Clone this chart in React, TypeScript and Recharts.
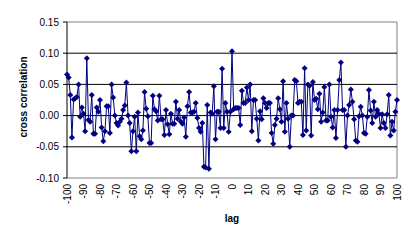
import { LineChart, Line, XAxis, YAxis, ReferenceLine, Label } from 'recharts'

// lag -100 .. -58
const valuesA = [
  0.066, 0.061, 0.033, -0.035, 0.026, 0.028, 0.03, 0.05, -0.002, 0.013, 0.003,
  -0.025, 0.092, -0.007, -0.01, 0.033, -0.029, -0.029, 0.013, 0.006, 0.025,
  -0.019, -0.041, -0.025, 0.015, 0.015, -0.028, 0.05, 0.029, 0.0, -0.012,
  -0.016, -0.01, -0.005, 0.009, 0.016, 0.053, 0.0, -0.012, -0.057, -0.025,
  -0.002, -0.057,
]
// lag -57 .. -33
const valuesB = [
  0.005, -0.033, -0.038, -0.024, 0.038, 0.011, -0.001, -0.044, -0.044, 0.032,
  0.01, 0.007, -0.008, 0.032, -0.006, -0.006, -0.031, 0.009, -0.014, -0.03,
  0.003, -0.013, -0.013, 0.022, -0.005,
]
// lag -32 .. -1
const valuesC = [
  0.009, -0.01, -0.013, -0.003, -0.034, 0.015, 0.038, 0.005, 0.005, 0.006,
  0.02, -0.004, -0.02, -0.026, -0.012, -0.082, -0.083, 0.017, -0.085, 0.005,
  0.003, 0.047, -0.038, 0.006, 0.006, -0.02, 0.075, -0.02, 0.02, 0.006,
  -0.026, 0.006,
]
// lag 0 .. 31
const valuesD = [
  0.103, 0.01, 0.012, 0.012, 0.012, -0.015, 0.04, 0.02, 0.02, 0.045, 0.025,
  0.05, -0.025, 0.025, 0.025, -0.005, -0.04, 0.007, -0.006, 0.028, 0.02, 0.012,
  0.02, 0.02, -0.028, -0.045, -0.015, -0.005, 0.028, 0.01, -0.01, 0.055,
]
// lag 32 .. 64
const valuesE = [
  -0.026, 0.02, -0.005, -0.05, 0.0, 0.0, 0.057, 0.055, 0.02, 0.022, 0.022,
  -0.031, 0.076, -0.024, 0.05, 0.048, -0.032, 0.054, 0.025, 0.027, 0.01, 0.035,
  -0.01, 0.005, 0.046, -0.008, -0.008, 0.05, -0.002, -0.019, 0.009, -0.036,
  0.009,
]
// lag 65 .. 100
const valuesF = [
  0.057, 0.085, 0.009, 0.009, -0.05, 0.0, 0.017, 0.042, 0.022, -0.006, -0.04,
  -0.042, -0.001, 0.014, 0.0, -0.028, -0.029, -0.002, 0.041, 0.008, -0.012,
  0.022, -0.002, 0.009, 0.003, -0.02, 0.002, -0.012, -0.02, 0.002, 0.033,
  -0.032, -0.01, -0.024, 0.006, 0.025,
]

const lagTicks = [-100, -90, -80, -70, -60, -50, -40, -30, -20, -10, 0, 10, 20, 30, 40, 50, 60, 70, 80, 90, 100]
const yTicks = [-0.1, -0.05, 0, 0.05, 0.1, 0.15]
const gridValues = [-0.05, 0, 0.05, 0.1]

const values = [...valuesA, ...valuesB, ...valuesC, ...valuesD, ...valuesE, ...valuesF]
const data = values.map((v, i) => ({ lag: i - 100, value: v }))

const FONT = '"Liberation Sans", Arial, sans-serif'
const NAVY = '#000080'

const Diamond = (props: any) => {
  const { cx, cy } = props
  if (cx == null || cy == null) return null
  return (
    <path
      d={`M${cx},${cy - 3}L${cx + 3},${cy}L${cx},${cy + 3}L${cx - 3},${cy}Z`}
      fill={NAVY}
    />
  )
}

const LagTick = ({ x, payload }: any) => {
  const y = 184
  return (
    <text
      x={x}
      y={y}
      transform={`rotate(-90 ${x} ${y})`}
      textAnchor="end"
      dominantBaseline="central"
      fontSize={10}
      fontFamily={FONT}
      fill="#000"
    >
      {payload.value}
    </text>
  )
}

export default function App() {
  return (
    <div style={{ position: 'fixed', left: 0, top: 0, width: 410, height: 241, background: '#fff' }}>
      <LineChart
        width={410}
        height={241}
        data={data}
        margin={{ top: 22, right: 13, bottom: 0, left: 0 }}
      >
        <XAxis
          dataKey="lag"
          type="number"
          domain={[-100, 100]}
          ticks={lagTicks}
          interval={0}
          axisLine={false}
          tickLine={false}
          tick={LagTick}
          height={63}
        >
          <Label
            content={() => (
              <text x={232} y={222} textAnchor="middle" fontSize={10} fontWeight="bold" fontFamily={FONT} fill="#000">
                lag
              </text>
            )}
          />
        </XAxis>
        <YAxis
          type="number"
          domain={[-0.1, 0.15]}
          ticks={yTicks}
          interval={0}
          width={67}
          tickSize={4}
          tickMargin={4}
          tickFormatter={(v: number) => v.toFixed(2)}
          tick={{ fontSize: 10, fontFamily: FONT, fill: '#000' }}
          axisLine={{ stroke: '#000' }}
          tickLine={{ stroke: '#000' }}
        >
          <Label
            content={() => (
              <text
                x={23}
                y={97}
                transform="rotate(-90 23 97)"
                textAnchor="middle"
                dominantBaseline="central"
                fontSize={10}
                fontWeight="bold"
                fontFamily={FONT}
                fill="#000"
              >
                cross correlation
              </text>
            )}
          />
        </YAxis>
        <ReferenceLine y={0.15} stroke="#808080" />
        <ReferenceLine y={-0.1} stroke="#808080" />
        <ReferenceLine x={100} stroke="#808080" />
        {gridValues.map((g) => (
          <ReferenceLine key={g} y={g} stroke="#000" />
        ))}
        <Line
          type="linear"
          dataKey="value"
          stroke={NAVY}
          strokeWidth={1}
          dot={Diamond}
          activeDot={false}
          isAnimationActive={false}
        />
      </LineChart>
    </div>
  )
}
